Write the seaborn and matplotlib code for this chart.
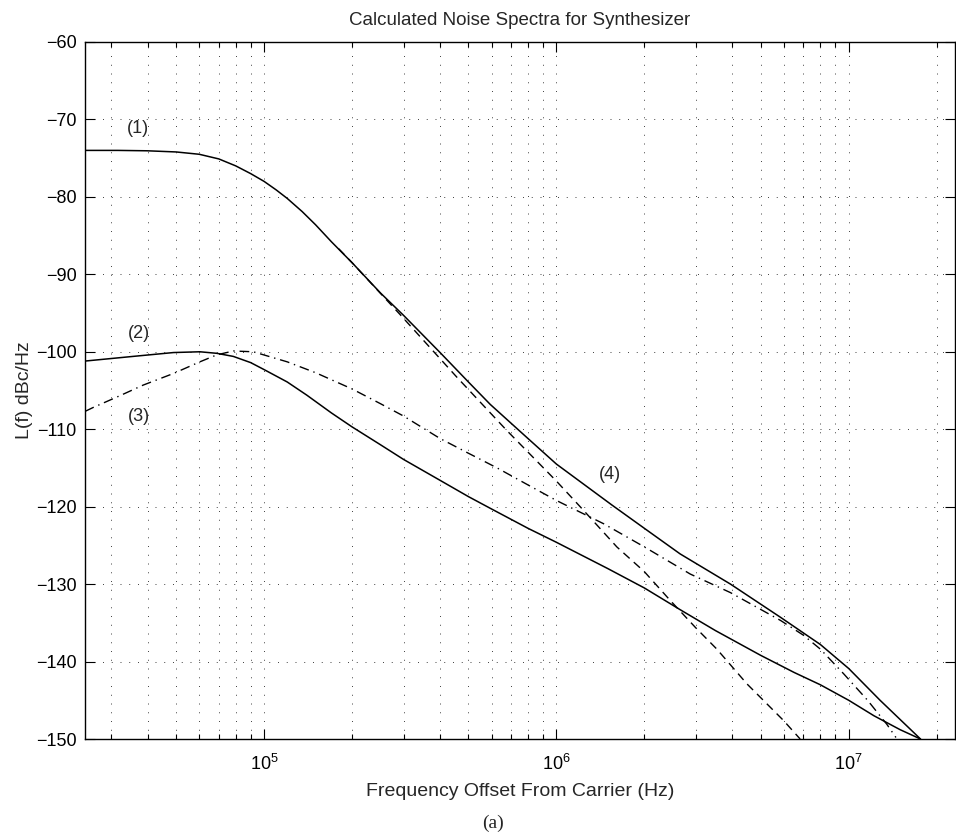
import matplotlib
matplotlib.use("Agg")
import matplotlib.pyplot as plt
import seaborn as sns
from matplotlib.ticker import LogLocator, MultipleLocator, NullFormatter

sns.set_style("ticks")
plt.rcParams["font.family"] = ["Liberation Sans", "DejaVu Sans"]

# ---- data (Hz, dBc/Hz) ----
# (1) total noise, upper solid
freq_1 = [2.44e4, 3.16e4, 3.98e4, 5.0e4, 6.0e4, 7.0e4, 8.0e4, 9.0e4, 1.0e5,
          1.1e5, 1.2e5, 1.35e5, 1.5e5, 1.7e5, 2.0e5, 2.5e5, 3.0e5, 4.0e5,
          5.0e5, 5.94e5, 7.94e5, 1.0e6, 1.55e6, 2.0e6, 2.65e6, 3.94e6, 5.85e6,
          8.0e6, 1.0e7, 1.28e7, 1.76e7]
level_1 = [-74.0, -74.0, -74.05, -74.2, -74.5, -75.1, -76.0, -77.0, -78.0,
           -79.1, -80.2, -81.9, -83.6, -85.8, -88.5, -92.4, -95.3, -100.1,
           -103.9, -106.8, -111.1, -114.5, -119.8, -122.8, -126.1, -130.0, -134.3,
           -137.8, -140.9, -145.0, -150.0]

# (2) lower solid
freq_2 = [2.44e4, 3.56e4, 4.9e4, 6.03e4, 6.89e4, 7.85e4, 9.0e4, 1.0e5, 1.2e5,
          1.4e5, 1.7e5, 2.0e5, 2.5e5, 3.0e5, 4.0e5, 5.0e5, 6.0e5, 8.0e5, 1.0e6,
          1.5e6, 2.0e6, 2.65e6, 3.5e6, 5.0e6, 6.5e6, 8.0e6, 1.0e7, 1.22e7,
          1.5e7, 1.76e7]
level_2 = [-101.2, -100.6, -100.1, -100.0, -100.2, -100.6, -101.4, -102.3, -103.9,
           -105.6, -107.9, -109.7, -112.0, -113.9, -116.6, -118.7, -120.3, -122.8, -124.6,
           -128.0, -130.5, -133.3, -136.0, -139.2, -141.4, -143.0, -145.0, -147.0,
           -148.8, -150.0]

# (3) dash-dot
freq_3 = [2.44e4, 2.6e4, 3.2e4, 3.86e4, 4.9e4, 6.03e4, 6.89e4, 7.85e4, 9.18e4,
          1.2e5, 1.5e5, 2.0e5, 2.5e5, 3.0e5, 4.0e5, 5.0e5, 6.27e5, 8.0e5, 1.0e6,
          1.45e6, 2.0e6, 2.87e6, 3.94e6, 5.85e6, 7.0e6, 8.0e6, 9.62e6, 1.16e7,
          1.35e7, 1.45e7]
level_3 = [-107.7, -107.2, -105.7, -104.3, -102.8, -101.3, -100.4, -99.9, -100.0,
           -101.3, -102.7, -104.8, -106.7, -108.3, -111.2, -113.1, -115.0, -117.2, -119.2,
           -122.2, -125.2, -128.7, -131.1, -134.7, -136.6, -138.4, -141.6, -145.0,
           -148.1, -149.8]

# dashed (unlabelled)
freq_4 = [1.8e5, 2.0e5, 2.92e5, 4.57e5, 6.78e5, 1.0e6, 1.24e6, 1.61e6, 2.0e6,
          2.45e6, 2.99e6, 3.54e6, 4.49e6, 5.98e6, 6.82e6]
level_4 = [-86.7, -88.5, -95.2, -103.3, -110.2, -116.7, -120.5, -125.2, -128.4,
           -132.1, -135.6, -138.4, -142.9, -147.6, -150.0]

fig = plt.figure(figsize=(9.56, 8.36), dpi=100)
ax = fig.add_axes([0.0889, 0.116, 0.9101, 0.8338])

sns.lineplot(x=freq_1, y=level_1, color="black", lw=1.1, sort=False, estimator=None, ax=ax)
sns.lineplot(x=freq_2, y=level_2, color="black", lw=1.1, sort=False, estimator=None, ax=ax)
sns.lineplot(x=freq_3, y=level_3, color="black", lw=1.0, sort=False, estimator=None, ax=ax)
ax.lines[-1].set_dashes((7, 3.5, 1, 3.5))
sns.lineplot(x=freq_4, y=level_4, color="black", lw=1.0, sort=False, estimator=None, ax=ax)
ax.lines[-1].set_dashes((6, 4))

ax.set_xscale("log")
ax.set_xlim(2.44e4, 2.31e7)
ax.set_ylim(-150, -60)
ax.yaxis.set_major_locator(MultipleLocator(10))
ax.xaxis.set_major_locator(LogLocator(base=10, numticks=20))
ax.xaxis.set_minor_locator(LogLocator(base=10, subs=range(2, 10), numticks=50))
ax.xaxis.set_minor_formatter(NullFormatter())

grid_kw = dict(color="0.25", lw=0.7, linestyle=(0, (1, 8)))
ax.grid(True, which="major", axis="both", **grid_kw)
ax.grid(True, which="minor", axis="x", **grid_kw)

ax.tick_params(which="both", direction="in", top=True, right=True, width=0.8,
               labelsize=13, colors="black")
ax.tick_params(which="major", length=7)
ax.tick_params(which="minor", length=3.5)
ax.tick_params(axis="x", which="major", pad=11)
ax.tick_params(axis="y", which="major", pad=6)
for s in ax.spines.values():
    s.set_linewidth(1.0)
    s.set_color("black")

ax.set_title("Calculated Noise Spectra for Synthesizer", fontsize=13.5, pad=12)
ax.set_xlabel("Frequency Offset From Carrier (Hz)", fontsize=14, labelpad=6)
ax.set_ylabel("L(f) dBc/Hz", fontsize=14, labelpad=2)

ax.text(3.7e4, -71.2, "(1)", fontsize=13, ha="center", va="center")
ax.text(3.72e4, -97.6, "(2)", fontsize=13, ha="center", va="center")
ax.text(3.72e4, -108.4, "(3)", fontsize=13, ha="center", va="center")
ax.text(1.53e6, -115.9, "(4)", fontsize=13, ha="center", va="center")

fig.text(493 / 956, 1 - 823 / 836, "(a)", family="Liberation Serif", fontsize=14,
         ha="center", va="center")

fig.savefig("out.png", dpi=100, facecolor="white")
